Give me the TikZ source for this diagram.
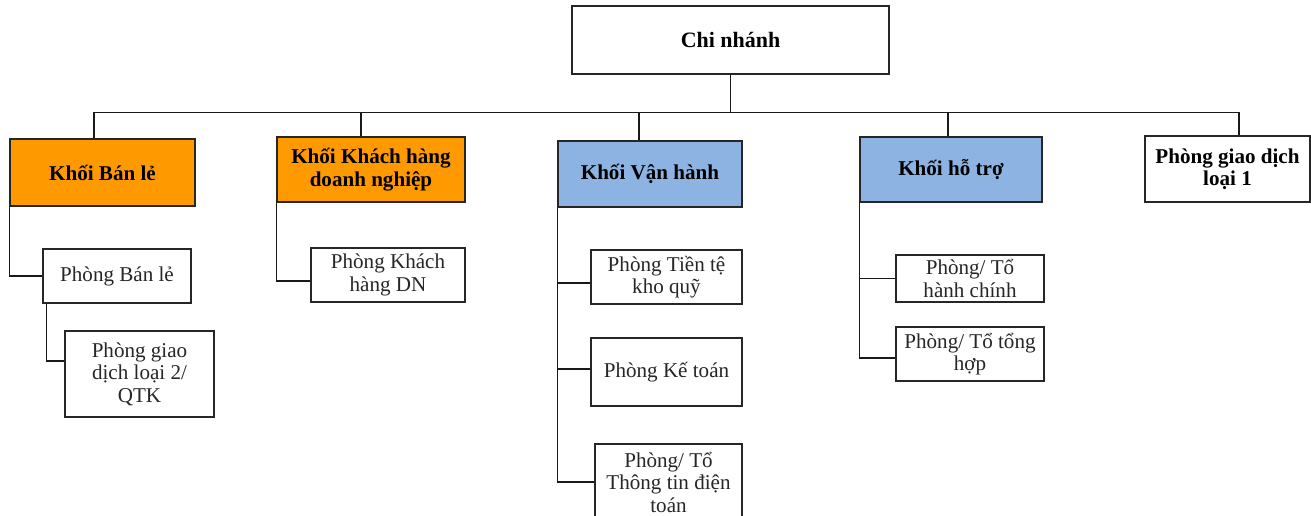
\documentclass[tikz,border=0pt]{standalone}
\usepackage{fontspec}
\setmainfont{Liberation Serif}
\usepackage{xcolor}
\usepackage{tikz}
\usetikzlibrary{positioning,calc}

\definecolor{khoiorange}{HTML}{FF9900}
\definecolor{khoiblue}{HTML}{8DB3E2}

\begin{document}
\begin{tikzpicture}[
    x=0.02cm, y=-0.02cm,
    cn/.style={rectangle, draw=black!85, line width=0.8pt, fill=white, align=center, inner sep=2pt, font=\fontsize{12.5}{13}\selectfont\bfseries},
    ko/.style={rectangle, draw=black!85, line width=0.8pt, fill=khoiorange, align=center, inner sep=2pt, font=\fontsize{12}{12.8}\selectfont\bfseries},
    kb/.style={rectangle, draw=black!85, line width=0.8pt, fill=khoiblue, align=center, inner sep=2pt, font=\fontsize{12}{12.8}\selectfont\bfseries},
    kw/.style={rectangle, draw=black!85, line width=0.8pt, fill=white, align=center, inner sep=2pt, font=\fontsize{12}{12.8}\selectfont\bfseries},
    pb/.style={rectangle, draw=black!85, line width=0.8pt, fill=white, align=center, inner sep=2pt, text=black!85, font=\fontsize{12}{12.8}\selectfont},
    ln/.style={line width=0.8pt, draw=black!90}
]
    \useasboundingbox (0,0) rectangle (1311,515);

    % cap tren cung
    \node [cn, minimum width=6.34cm, minimum height=1.36cm] (cn) at (730.5,40) {Chi nhánh};

    % cac khoi
    \node [ko, minimum width=3.7cm, minimum height=1.34cm] (kbl) at (102.5,172.5) {Khối Bán lẻ};
    \node [ko, minimum width=3.76cm, minimum height=1.3cm] (kkh) at (371,169.5) {Khối Khách hàng\\doanh nghiệp};
    \node [kb, minimum width=3.68cm, minimum height=1.32cm] (kvh) at (650,174) {Khối Vận hành};
    \node [kb, minimum width=3.64cm, minimum height=1.3cm] (kht) at (951,169.5) {Khối hỗ trợ};
    \node [kw, minimum width=3.3cm, minimum height=1.32cm] (pgd1) at (1227.5,169) {Phòng giao dịch\\loại 1};

    % cac phong
    \node [pb, minimum width=2.96cm, minimum height=1.08cm] (pbl) at (117,276) {Phòng Bán lẻ};
    \node [pb, minimum width=2.98cm, minimum height=1.72cm] (pgd2) at (139.5,374) {Phòng giao\\dịch loại 2/\\QTK};
    \node [pb, minimum width=3.08cm, minimum height=1.08cm] (pkh) at (388,275) {Phòng Khách\\hàng DN};
    \node [pb, minimum width=3.02cm, minimum height=1.08cm] (ptt) at (666.5,277) {Phòng Tiền tệ\\kho quỹ};
    \node [pb, minimum width=3.02cm, minimum height=1.36cm] (pkt) at (666.5,372) {Phòng Kế toán};
    \node [pb, minimum width=2.94cm, minimum height=1.52cm] (ptin) at (668.5,482) {Phòng/ Tổ\\Thông tin điện\\toán};
    \node [pb, minimum width=2.96cm, minimum height=0.94cm] (phc) at (970,278.5) {Phòng/ Tổ\\hành chính};
    \node [pb, minimum width=2.96cm, minimum height=1.08cm] (pth) at (970,354) {Phòng/ Tổ tổng\\hợp};

    % duong noi
    \draw [ln] (cn.south) -- ++(0,38) -| ([xshift=-0.17cm]kbl.north);
    \draw [ln] (cn.south) -- ++(0,38) -| ([xshift=-0.2cm]kkh.north);
    \draw [ln] (cn.south) -- ++(0,38) -| ([xshift=-0.22cm]kvh.north);
    \draw [ln] (cn.south) -- ++(0,38) -| ([xshift=-0.06cm]kht.north);
    \draw [ln] (cn.south) -- ++(0,38) -| ([xshift=0.23cm]pgd1.north);

    \draw [ln] (kbl.south west) |- (pbl.west);
    \draw [ln] ([xshift=0.08cm]pbl.south west) |- ([yshift=0.26cm]pgd2.west);
    \draw [ln] (kkh.south west) |- ([yshift=-0.12cm]pkh.west);
    \draw [ln] (kvh.south west) |- ([yshift=-0.12cm]ptt.west);
    \draw [ln] (kvh.south west) |- ([yshift=0.06cm]pkt.west);
    \draw [ln] (kvh.south west) |- (ptin.west);
    \draw [ln] (kht.south west) |- (phc.west);
    \draw [ln] (kht.south west) |- ([yshift=-0.08cm]pth.west);
\end{tikzpicture}
\end{document}
